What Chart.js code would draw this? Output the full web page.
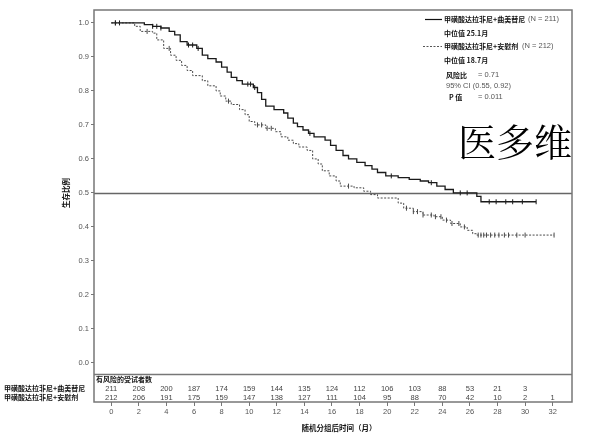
<!DOCTYPE html>
<html>
<head>
<meta charset="utf-8">
<script src="https://cdn.jsdelivr.net/npm/chart.js@4.4.1/dist/chart.umd.min.js"></script>
<style>
  body { margin: 0; background: #fff; }
  #km { display: block; }
</style>
</head>
<body>
<canvas id="km" width="606" height="438"></canvas>
<script>
// KM curve steps (months, survival proportion)
const comboTimes = [0, 2.4, 3.0, 3.6, 4.2, 4.6, 5.0, 5.5, 6.2, 6.6, 7.0, 7.6, 8.0, 8.4, 8.7, 9.1, 9.5, 10.3, 10.6, 10.9, 11.2, 11.8, 12.5, 12.8, 13.2, 13.5, 13.9, 14.3, 14.7, 15.5, 15.9, 16.3, 16.8, 17.2, 17.8, 18.4, 18.9, 19.3, 19.9, 20.8, 21.6, 22.4, 23.0, 23.6, 24.2, 24.8, 26.5, 26.8, 30.8];
const comboSurv  = [1.0, 0.995, 0.99, 0.985, 0.975, 0.965, 0.945, 0.935, 0.925, 0.905, 0.895, 0.885, 0.87, 0.855, 0.84, 0.83, 0.82, 0.81, 0.795, 0.775, 0.755, 0.745, 0.735, 0.72, 0.705, 0.695, 0.685, 0.675, 0.665, 0.655, 0.64, 0.625, 0.61, 0.60, 0.59, 0.58, 0.57, 0.56, 0.55, 0.545, 0.54, 0.535, 0.53, 0.52, 0.51, 0.50, 0.49, 0.474, 0.474];
const comboCensor = [0.3, 0.6, 3.0, 3.3, 3.6, 5.6, 5.9, 6.3, 9.9, 10.1, 10.4, 14.4, 20.3, 23.2, 25.3, 25.8, 27.4, 27.9, 28.6, 29.1, 29.8, 30.8];

const placeboTimes = [0, 1.7, 2.1, 3.0, 3.3, 3.8, 4.3, 4.7, 5.1, 5.5, 5.9, 6.6, 7.0, 7.6, 7.9, 8.3, 8.7, 9.3, 9.7, 10.0, 10.4, 11.2, 11.9, 12.3, 12.8, 13.2, 13.6, 14.2, 14.6, 15.0, 15.3, 15.8, 16.3, 16.6, 17.6, 18.3, 18.8, 19.3, 20.8, 21.2, 21.9, 22.6, 23.4, 24.0, 24.6, 25.3, 25.8, 26.2, 26.5, 32.1];
const placeboSurv  = [1.0, 0.99, 0.975, 0.97, 0.95, 0.925, 0.905, 0.89, 0.875, 0.86, 0.845, 0.83, 0.815, 0.80, 0.785, 0.77, 0.76, 0.745, 0.73, 0.71, 0.70, 0.69, 0.68, 0.665, 0.655, 0.645, 0.635, 0.625, 0.60, 0.585, 0.565, 0.55, 0.535, 0.52, 0.515, 0.505, 0.495, 0.485, 0.47, 0.455, 0.445, 0.435, 0.43, 0.42, 0.41, 0.40, 0.39, 0.38, 0.376, 0.376];
const placeboCensor = [0.3, 2.6, 4.2, 8.5, 10.6, 10.9, 11.3, 11.6, 17.2, 21.4, 21.9, 22.2, 22.6, 23.2, 23.5, 23.9, 24.3, 24.7, 25.2, 25.6, 26.6, 26.8, 27.0, 27.2, 27.5, 27.8, 28.1, 28.5, 28.8, 29.4, 30.0, 32.1];

const xTicks = [0, 2, 4, 6, 8, 10, 12, 14, 16, 18, 20, 22, 24, 26, 28, 30, 32];
const yTicks = [0, 0.1, 0.2, 0.3, 0.4, 0.5, 0.6, 0.7, 0.8, 0.9, 1.0];
const riskCombo   = ['211', '208', '200', '187', '174', '159', '144', '135', '124', '112', '106', '103', '88', '53', '21', '3', ''];
const riskPlacebo = ['212', '206', '191', '175', '159', '147', '138', '127', '111', '104', '95', '88', '70', '42', '10', '2', '1'];

const comboName = '甲磺酸达拉非尼+曲美替尼';
const placeboName = '甲磺酸达拉非尼+安慰剂';

const FONT = 'Arial, "Liberation Sans", "Noto Sans CJK SC", sans-serif';
const CJK = '"Noto Sans CJK SC", sans-serif';
const DIVIDER = -0.032; // y value where the risk table starts

function stepAt(times, surv, t) {
  let s = surv[0];
  for (let i = 0; i < times.length; i++) {
    if (times[i] <= t) s = surv[i];
  }
  return s;
}

const toPts = (xs, ys) => xs.map((x, i) => ({ x: x, y: ys[i] }));
const censorPts = (cs, times, surv) => cs.map(t => ({ x: t, y: stepAt(times, surv, t) }));

const extras = {
  id: 'extras',
  beforeDatasetsDraw(chart) {
    const { ctx, chartArea: a, scales: { y } } = chart;
    ctx.save();
    // reference line at 0.5
    ctx.strokeStyle = '#666';
    ctx.lineWidth = 1.5;
    ctx.beginPath();
    const y5 = Math.round(y.getPixelForValue(0.5)) + 0.5;
    ctx.moveTo(a.left, y5);
    ctx.lineTo(a.right, y5);
    ctx.stroke();
    ctx.restore();
  },
  afterDraw(chart) {
    const { ctx, chartArea: a, scales: { x, y } } = chart;
    ctx.save();
    // frame and risk table divider
    ctx.strokeStyle = '#777';
    ctx.lineWidth = 1.5;
    ctx.strokeRect(a.left, a.top, a.right - a.left, a.bottom - a.top);
    const yd = Math.round(y.getPixelForValue(DIVIDER)) + 0.5;
    ctx.beginPath();
    ctx.moveTo(a.left, yd);
    ctx.lineTo(a.right, yd);
    ctx.stroke();

    // risk table
    ctx.textBaseline = 'middle';
    ctx.fillStyle = '#111';
    ctx.font = 'bold 7px ' + CJK;
    ctx.textAlign = 'left';
    ctx.fillText('有风险的受试者数', a.left + 2, yd + 5);
    ctx.fillText(comboName, 4, yd + 14);
    ctx.fillText(placeboName, 4, yd + 23);
    ctx.font = '7.5px ' + FONT;
    ctx.fillStyle = '#444';
    ctx.textAlign = 'center';
    xTicks.forEach((t, i) => {
      const px = x.getPixelForValue(t);
      ctx.fillText(riskCombo[i], px, yd + 14);
      ctx.fillText(riskPlacebo[i], px, yd + 23);
    });

    // axis titles
    ctx.fillStyle = '#111';
    ctx.font = 'bold 7.5px ' + CJK;
    ctx.fillText('随机分组后时间（月）', 339, 428);
    ctx.save();
    ctx.translate(66, y.getPixelForValue(0.5));
    ctx.rotate(-Math.PI / 2);
    ctx.fillText('生存比例', 0, 0);
    ctx.restore();

    // legend block
    ctx.textAlign = 'left';
    ctx.strokeStyle = '#111';
    ctx.lineWidth = 1.2;
    ctx.beginPath();
    ctx.moveTo(425, 19.5);
    ctx.lineTo(442, 19.5);
    ctx.stroke();
    ctx.strokeStyle = '#555';
    ctx.lineWidth = 1;
    ctx.setLineDash([2, 1.5]);
    ctx.beginPath();
    ctx.moveTo(423, 46.5);
    ctx.lineTo(442, 46.5);
    ctx.stroke();
    ctx.setLineDash([]);

    ctx.font = 'bold 7px ' + CJK;
    ctx.fillStyle = '#111';
    ctx.fillText(comboName, 444, 19);
    ctx.fillText('中位值 25.1月', 444, 33);
    ctx.fillText(placeboName, 444, 46);
    ctx.fillText('中位值 18.7月', 444, 60);
    ctx.fillText('风险比', 446, 75);
    ctx.fillText('P 值', 449, 97);
    ctx.font = '7.5px ' + FONT;
    ctx.fillStyle = '#555';
    ctx.fillText('(N = 211)', 528, 19);
    ctx.fillText('(N = 212)', 522, 46);
    ctx.fillText('= 0.71', 478, 75);
    ctx.fillText('95% CI (0.55, 0.92)', 446, 86);
    ctx.fillText('= 0.011', 478, 97);

    // watermark
    ctx.fillStyle = '#000';
    ctx.font = '38px "Noto Serif CJK SC", "Noto Sans CJK SC", serif';
    ctx.textBaseline = 'alphabetic';
    ctx.fillText('医多维', 458, 156);
    ctx.restore();
  }
};

new Chart(document.getElementById('km'), {
  type: 'line',
  data: {
    datasets: [
      {
        label: comboName,
        data: toPts(comboTimes, comboSurv),
        stepped: true,
        borderColor: '#1a1a1a',
        borderWidth: 1.3,
        pointRadius: 0,
        fill: false
      },
      {
        label: placeboName,
        data: toPts(placeboTimes, placeboSurv),
        stepped: true,
        borderColor: '#4a4a4a',
        borderWidth: 1,
        borderDash: [2, 1.5],
        pointRadius: 0,
        fill: false
      },
      {
        type: 'scatter',
        data: censorPts(comboCensor, comboTimes, comboSurv),
        pointStyle: 'line',
        rotation: 90,
        radius: 2.5,
        borderColor: '#1a1a1a',
        borderWidth: 1
      },
      {
        type: 'scatter',
        data: censorPts(placeboCensor, placeboTimes, placeboSurv),
        pointStyle: 'line',
        rotation: 90,
        radius: 2.5,
        borderColor: '#4a4a4a',
        borderWidth: 1
      }
    ]
  },
  options: {
    responsive: false,
    animation: false,
    layout: { padding: { top: 10, right: 34, left: 0, bottom: 0 } },
    plugins: { legend: { display: false }, tooltip: { enabled: false } },
    scales: {
      x: {
        type: 'linear',
        min: -1.25,
        max: 33.4,
        afterBuildTicks: s => { s.ticks = xTicks.map(v => ({ value: v })); },
        afterFit: s => { s.height = 36; },
        ticks: { font: { size: 7.5, family: FONT }, color: '#555', padding: 1, maxRotation: 0, autoSkip: false },
        grid: { drawOnChartArea: false, tickLength: 4, color: '#777' },
        border: { display: false }
      },
      y: {
        min: -0.115,
        max: 1.038,
        afterBuildTicks: s => { s.ticks = yTicks.map(v => ({ value: v })); },
        afterFit: s => { s.width = 94; },
        ticks: { font: { size: 7.5, family: FONT }, color: '#555', padding: 2, callback: v => v.toFixed(1) },
        grid: { drawOnChartArea: false, tickLength: 3, color: '#777' },
        border: { display: false }
      }
    }
  },
  plugins: [extras]
});
</script>
</body>
</html>
